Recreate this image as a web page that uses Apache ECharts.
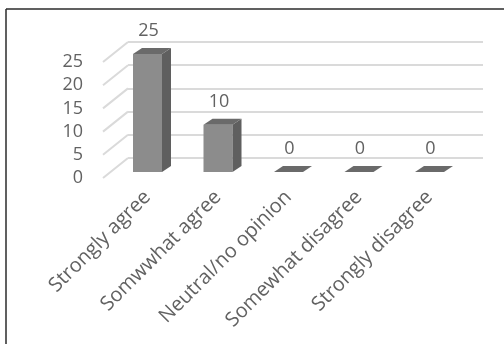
<!DOCTYPE html>
<html><head><meta charset="utf-8">
<script src="https://cdn.jsdelivr.net/npm/echarts@6/dist/echarts.min.js"></script>
<style>html,body{margin:0;padding:0;background:#fff}#c{width:504px;height:344px}</style>
</head><body><div id="c"></div>
<script>
const categories = ['Strongly agree','Somwwhat agree','Neutral/no opinion','Somewhat disagree','Strongly disagree'];
const values = [25, 10, 0, 0, 0];
const yTicks = [0, 5, 10, 15, 20, 25];

const FONT = 'Open Sans';
const TXT = '#626262';
const chart = echarts.init(document.getElementById('c'), null, {renderer:'canvas'});

chart.setOption({
  animation:false,
  backgroundColor:'#fff',
  graphic:[
    {type:'line', shape:{x1:6, y1:9, x2:504, y2:9}, style:{stroke:'#2b2b2b', lineWidth:1.5}},
    {type:'line', shape:{x1:6, y1:9, x2:6, y2:344}, style:{stroke:'#2b2b2b', lineWidth:1.5}}
  ],
  grid:[
    {left:112.25, right:39.25, top:54, bottom:172},   // bars
    {left:128, right:21, top:42, bottom:186},         // back wall
    {left:103, right:300, top:62, bottom:166}         // front y labels
  ],
  xAxis:[
    {gridIndex:0, type:'category', data:categories,
     axisLine:{show:false}, axisTick:{show:false},
     axisLabel:{rotate:45, interval:0, margin:22, color:TXT, fontFamily:FONT, fontSize:20}},
    {gridIndex:1, type:'value', show:false, min:0, max:1},
    {gridIndex:2, type:'value', show:false, min:0, max:1}
  ],
  yAxis:[
    {gridIndex:0, type:'value', min:0, max:25, show:false},
    {gridIndex:1, type:'value', min:0, max:25, interval:5,
     axisLine:{show:false}, axisTick:{show:false}, axisLabel:{show:false},
     splitLine:{show:true, lineStyle:{color:'#dadada', width:2}}},
    {gridIndex:2, type:'value', min:0, max:25, interval:5,
     axisLine:{show:false}, axisTick:{show:false}, splitLine:{show:false},
     axisLabel:{margin:20, color:TXT, fontFamily:FONT, fontSize:18}}
  ],
  series:[
    {
      type:'custom', xAxisIndex:2, yAxisIndex:2,
      data: yTicks.map(v => [0, v]),
      renderItem:function(params, api){
        const p = api.coord([0, api.value(1)]);
        return {type:'line', shape:{x1:p[0], y1:p[1], x2:p[0]+25, y2:p[1]-20},
                style:{stroke:'#dadada', lineWidth:2}};
      }
    },
    {
      type:'custom', xAxisIndex:0, yAxisIndex:0,
      data: values.map((v,i) => [i, v]),
      renderItem:function(params, api){
        const v = api.value(1);
        const base = api.coord([api.value(0), 0]);
        const top = api.coord([api.value(0), v]);
        const w = 29, dx = 9, dy = -6;
        const x0 = base[0] - w/2, x1 = base[0] + w/2;
        const yb = base[1], yt = top[1];
        return {type:'group', children:[
          {type:'polygon', shape:{points:[[x0,yt],[x1,yt],[x1,yb],[x0,yb]]}, style:{fill:'#8c8c8c'}},
          {type:'polygon', shape:{points:[[x1,yt],[x1+dx,yt+dy],[x1+dx,yb+dy],[x1,yb]]}, style:{fill:'#5f5f5f'}},
          {type:'polygon', shape:{points:[[x0,yt],[x1,yt],[x1+dx,yt+dy],[x0+dx,yt+dy]]}, style:{fill:'#6a6a6a'}},
          {type:'text', style:{text:String(v), x:base[0]+1, y:yt+dy-17, align:'center', verticalAlign:'middle',
            fill:TXT, font:'18px "Open Sans"'}}
        ]};
      }
    }
  ]
});
</script></body></html>
